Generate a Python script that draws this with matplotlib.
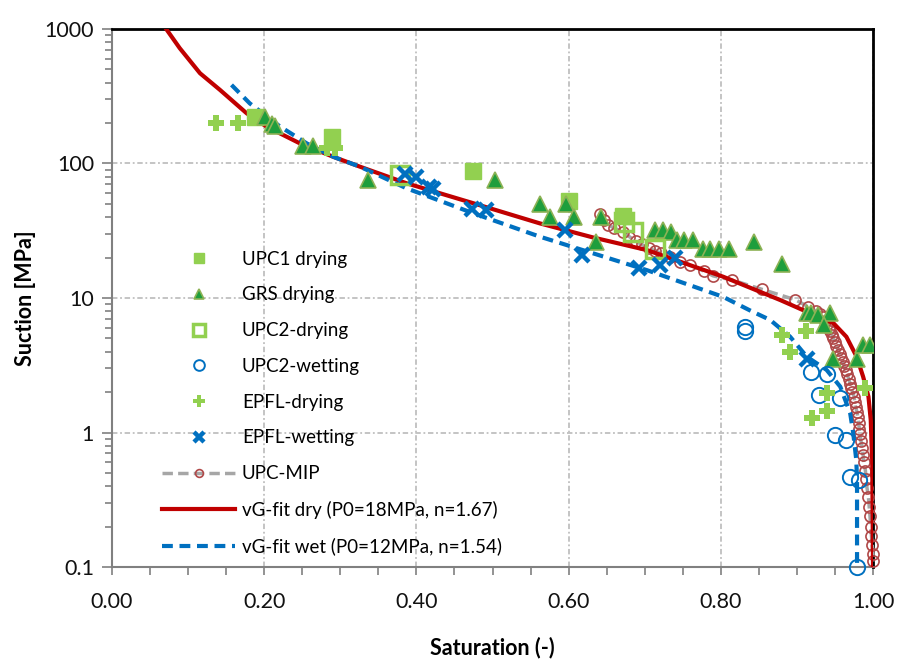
import matplotlib.pyplot as plt
from matplotlib.ticker import MultipleLocator, LogLocator, NullFormatter, FixedFormatter, FixedLocator

plt.rcParams['font.family'] = ['Lato', 'DejaVu Sans']

# --- measured retention data (saturation [-], suction [MPa]) ---
upc1_dry_sr = [0.188, 0.289, 0.475, 0.600, 0.672]
upc1_dry_s = [223, 158, 88, 53, 41]

grs_dry_sr = [0.201, 0.210, 0.214, 0.251, 0.264, 0.337, 0.503, 0.563, 0.576, 0.596,
              0.607, 0.636, 0.643, 0.713, 0.724, 0.735, 0.742, 0.751, 0.764, 0.777,
              0.786, 0.797, 0.811, 0.843, 0.880, 0.913, 0.919, 0.928, 0.943, 0.935,
              0.948, 0.979, 0.987, 0.996]
grs_dry_s = [223, 197, 189, 135, 135, 76, 76, 50, 40, 50,
             40, 26, 40, 32, 32, 31, 27, 27, 27, 23,
             23, 23, 23, 26, 18, 7.7, 7.7, 7.5, 7.7, 6.3,
             3.5, 3.5, 4.5, 4.5]

upc2_dry_sr = [0.378, 0.673, 0.684, 0.713]
upc2_dry_s = [82, 37, 31, 23]

upc2_wet_sr = [0.832, 0.832, 0.919, 0.940, 0.929, 0.957, 0.950, 0.965, 0.970, 0.981, 0.979]
upc2_wet_s = [5.7, 6.1, 2.83, 2.7, 1.9, 1.8, 0.96, 0.88, 0.47, 0.44, 0.1]

epfl_dry_sr = [0.137, 0.165, 0.283, 0.293, 0.881, 0.891, 0.912, 0.940, 0.920, 0.940, 0.990]
epfl_dry_s = [201, 201, 130, 130, 5.3, 4.0, 5.7, 1.96, 1.28, 1.44, 2.13]

epfl_wet_sr = [0.385, 0.400, 0.416, 0.422, 0.473, 0.492, 0.595, 0.617, 0.692, 0.720, 0.740, 0.913]
epfl_wet_s = [84, 80, 67, 65, 46, 45, 32, 21, 16.6, 17.6, 19.7, 3.5]

mip_sr = [0.641, 0.647, 0.652, 0.660, 0.672, 0.680, 0.688, 0.696, 0.705, 0.713,
          0.722, 0.733, 0.746, 0.760, 0.778, 0.790, 0.815, 0.854, 0.898, 0.915,
          0.925, 0.930, 0.934, 0.937, 0.940, 0.942, 0.944, 0.946, 0.948, 0.950,
          0.952, 0.954, 0.956, 0.958, 0.960, 0.962, 0.964, 0.966, 0.968, 0.970,
          0.971, 0.973, 0.975, 0.976, 0.977, 0.979, 0.980, 0.981, 0.982, 0.983,
          0.984, 0.986, 0.987, 0.988, 0.990, 0.991, 0.992, 0.994, 0.995, 0.996,
          0.997, 0.998, 0.999, 1.000, 1.000]
mip_s = [42, 38, 35, 33, 31, 28.5, 26.5, 25, 23.5, 22.5,
         21.5, 20.3, 18.6, 17.6, 15.8, 14.6, 13.6, 11.6, 9.7, 8.6,
         8.0, 7.6, 7.2, 6.8, 6.4, 6.0, 5.7, 5.3, 5.0, 4.7,
         4.4, 4.1, 3.85, 3.6, 3.35, 3.1, 2.9, 2.7, 2.5, 2.3,
         2.15, 2.0, 1.85, 1.7, 1.55, 1.42, 1.3, 1.18, 1.07, 0.97,
         0.87, 0.77, 0.68, 0.6, 0.52, 0.45, 0.39, 0.33, 0.28, 0.24,
         0.2, 0.17, 0.145, 0.125, 0.11]

# van Genuchten fits as plotted
vg_dry_sr = [0.0696, 0.089, 0.1156, 0.142, 0.177, 0.203, 0.247, 0.291, 0.326, 0.387,
             0.475, 0.562, 0.632, 0.703, 0.803, 0.878, 0.913, 0.948, 0.965, 0.9785,
             0.987, 0.994, 0.997, 0.999, 1.0]
vg_dry_s = [1030, 720, 469, 352, 236, 188, 141, 112, 94.6, 71.3,
            50.6, 35.9, 28.2, 22.7, 14.4, 9.66, 7.9, 6.5, 5.15, 3.66,
            2.6, 1.85, 1.24, 0.6, 0.1]

vg_wet_sr = [0.157, 0.181, 0.221, 0.256, 0.291, 0.326, 0.387, 0.475, 0.562, 0.632,
             0.703, 0.803, 0.838, 0.865, 0.891, 0.913, 0.939, 0.957, 0.970, 0.974,
             0.978, 0.979, 0.979, 0.979]
vg_wet_s = [384, 280, 188, 141, 112, 94.6, 65.4, 42.6, 28.6, 21.5,
            16.1, 10.2, 8.1, 6.86, 5.16, 3.66, 2.92, 2.19, 1.39, 0.99,
            0.625, 0.443, 0.251, 0.1]

light_green = '#92D050'
blue = '#0070C0'

fig = plt.figure(figsize=(8.99, 6.59), dpi=100)
ax = fig.add_axes([0.1246, 0.1396, 0.8465, 0.8164])
ax.set_yscale('log')

mip, = ax.plot(mip_sr, mip_s, linestyle=(0, (3, 1.5)), color='#A6A6A6', lw=2.5,
               marker='o', ms=8, mfc='none', mec='#B04848', mew=1.2,
               label='UPC-MIP', clip_on=False, zorder=3)
dry, = ax.plot(vg_dry_sr, vg_dry_s, color='#C00000', lw=3, zorder=4,
               label='vG-fit dry (P0=18MPa, n=1.67)')
wet, = ax.plot(vg_wet_sr, vg_wet_s, color=blue, lw=3, dashes=(2.6, 1.6), zorder=4,
               label='vG-fit wet (P0=12MPa, n=1.54)')

upc1, = ax.plot(upc1_dry_sr, upc1_dry_s, 's', ms=11, color=light_green, mec=light_green,
                label='UPC1 drying', zorder=5)
grs, = ax.plot(grs_dry_sr, grs_dry_s, '^', ms=11, mfc='#1E9E3C', mec='#8DB255', mew=1.2,
               label='GRS drying', zorder=5)
upc2d, = ax.plot(upc2_dry_sr, upc2_dry_s, 's', ms=13, mfc='none', mec=light_green, mew=2.5,
                 label='UPC2-drying', zorder=5)
upc2w, = ax.plot(upc2_wet_sr, upc2_wet_s, 'o', ms=11, mfc='none', mec=blue, mew=1.4,
                 label='UPC2-wetting', zorder=5, clip_on=False)
epfld, = ax.plot(epfl_dry_sr, epfl_dry_s, 'P', ms=12, color=light_green, mew=0,
                 label='EPFL-drying', zorder=6)
epflw, = ax.plot(epfl_wet_sr, epfl_wet_s, 'x', ms=10, color=blue, mew=3.2,
                 label='EPFL-wetting', zorder=6)

ax.set_xlim(0, 1)
ax.set_ylim(0.1, 1000)

ax.xaxis.set_major_locator(MultipleLocator(0.2))
ax.xaxis.set_minor_locator(MultipleLocator(0.05))
ax.xaxis.set_major_formatter(plt.FuncFormatter(lambda v, p: f'{v:.2f}'))
ax.yaxis.set_major_locator(FixedLocator([0.1, 1, 10, 100, 1000]))
ax.yaxis.set_major_formatter(FixedFormatter(['0.1', '1', '10', '100', '1000']))
ax.yaxis.set_minor_locator(LogLocator(base=10, subs=range(2, 10)))
ax.yaxis.set_minor_formatter(NullFormatter())

ax.tick_params(axis='both', which='both', direction='out', color='#808080',
               labelsize=15.5, labelcolor='#111111')
ax.tick_params(axis='x', which='both', length=6, width=1.2, pad=12)
ax.tick_params(axis='y', which='major', length=7, width=1.2, pad=6)
ax.tick_params(axis='y', which='minor', length=5, width=1.2)

ax.grid(True, which='major', color='#BFBFBF', lw=1.3, linestyle=(0, (3, 1.5, 1, 1.5)))
ax.set_axisbelow(True)

for side in ('left', 'bottom'):
    ax.spines[side].set_color('#808080')
    ax.spines[side].set_linewidth(1.5)
for side in ('top', 'right'):
    ax.spines[side].set_color('black')
    ax.spines[side].set_linewidth(2)

ax.set_xlabel('Saturation (-)', fontsize=15.5, fontweight='bold', labelpad=18)
ax.set_ylabel('Suction [MPa]', fontsize=15.5, fontweight='bold', labelpad=6)

ax.legend(handles=[upc1, grs, upc2d, upc2w, epfld, epflw, mip, dry, wet],
          loc='upper left', bbox_to_anchor=(0.066, 0.588), frameon=False,
          fontsize=13.5, handlelength=3.9, handletextpad=0.35, labelspacing=1.0,
          borderpad=0, borderaxespad=0, markerscale=0.7)

fig.savefig('out.png', dpi=100)
